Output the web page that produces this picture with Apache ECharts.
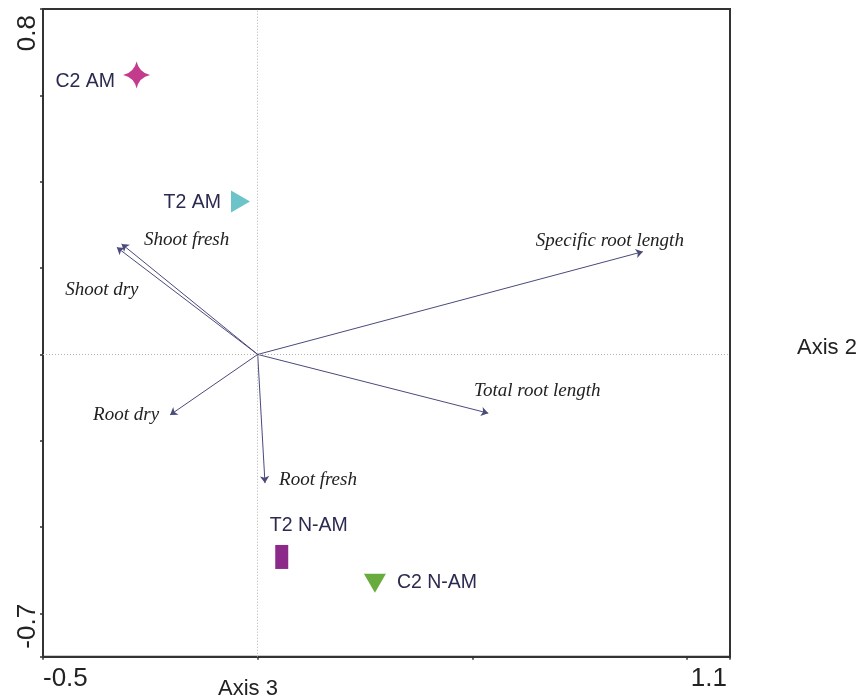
<!DOCTYPE html>
<html>
<head>
<meta charset="utf-8">
<style>
  html, body { margin: 0; padding: 0; background: #ffffff; }
  #chart { width: 862px; height: 700px; }
</style>
<script src="https://cdn.jsdelivr.net/npm/echarts@6/dist/echarts.min.js"></script>
</head>
<body>
<div id="chart"></div>
<script>
// Treatment group scores on axes 3 (x) and 2 (y)
const groupNames = ['C2 AM', 'T2 AM', 'T2 N-AM', 'C2 N-AM'];
const groupAxis3 = [-0.282, -0.040, 0.056, 0.273];
const groupAxis2 = [0.647, 0.354, -0.469, -0.530];

// Trait vectors (arrow tips, drawn from the origin)
const traitNames = ['Shoot fresh', 'Shoot dry', 'Root dry', 'Root fresh', 'Specific root length', 'Total root length'];
const traitAxis3 = [-0.317, -0.328, -0.204, 0.017, 0.897, 0.537];
const traitAxis2 = [0.256, 0.248, -0.140, -0.298, 0.238, -0.136];

// Axis ranges, ticks and the labelled end values
const xRange = [-0.5, 1.1];
const yRange = [-0.7, 0.8];
const xTicks = [-0.5, 0, 0.5, 1.0, 1.1];
const yTicks = [-0.7, -0.6, -0.4, -0.2, 0, 0.2, 0.4, 0.6, 0.8];
const xTickLabels = [-0.5, 1.1];
const yTickLabels = [-0.7, 0.8];

// Marker look for each group
const groupStyle = {
  'C2 AM':   { color: '#c43a8d', size: [27, 27], symbol: 'path://M0,-10 Q1.8,-1.8 10,0 Q1.8,1.8 0,10 Q-1.8,1.8 -10,0 Q-1.8,-1.8 0,-10Z', label: { position: 'left', distance: 8, offset: [0, 7] } },
  'T2 AM':   { color: '#6cc4c9', size: [19, 22], symbol: 'path://M0,0 L19,11 L0,22Z', label: { position: 'left', distance: 10, offset: [0, 1] } },
  'T2 N-AM': { color: '#8c2a8a', size: [13, 24], symbol: 'rect', label: { position: 'inside', distance: 0, offset: [27, -31] } },
  'C2 N-AM': { color: '#69ab3c', size: [22, 19], symbol: 'path://M0,0 L22,0 L11,19Z', label: { position: 'right', distance: 11, offset: [0, -1] } }
};

// Label placement next to each arrow tip (pixels from the tip)
const traitLabelOffset = {
  'Shoot fresh': [65, -4],
  'Shoot dry': [-15, 43],
  'Root dry': [-44, 0],
  'Root fresh': [53, -3],
  'Specific root length': [-33, -11],
  'Total root length': [49, -22]
};

const sans = '"Liberation Sans", Arial, sans-serif';
const serif = '"Liberation Serif", "Times New Roman", serif';
const ink = '#333333';

const chart = echarts.init(document.getElementById('chart'), null, { renderer: 'canvas' });

const option = {
  animation: false,
  backgroundColor: '#ffffff',
  grid: {
    left: 43, right: 132, top: 9, bottom: 43.3,
    outerBoundsMode: 'none',
    containLabel: false,
    show: true, borderColor: ink, borderWidth: 2, backgroundColor: 'transparent'
  },
  xAxis: {
    type: 'value',
    min: xRange[0], max: xRange[1],
    name: 'Axis 3',
    nameLocation: 'middle',
    nameGap: 21,
    nameMoveOverlap: false,
    nameTextStyle: { fontFamily: sans, fontSize: 22, color: '#222', padding: [0, 277, 0, 0] },
    axisLine: { show: true, onZero: false, lineStyle: { color: ink, width: 2 } },
    axisTick: { show: true, length: 3, customValues: xTicks, lineStyle: { color: ink, width: 1.5 } },
    axisLabel: {
      show: true, customValues: xTickLabels, margin: 9,
      fontFamily: sans, fontSize: 26, color: '#222',
      alignMinLabel: 'left', alignMaxLabel: 'right',
      padding: [0, 3, 0, 0],
      formatter: v => String(Math.round(v * 10) / 10)
    },
    splitLine: { show: false }
  },
  yAxis: [{
    type: 'value',
    min: yRange[0], max: yRange[1],
    axisLine: { show: true, onZero: false, lineStyle: { color: ink, width: 2 } },
    axisTick: { show: true, length: 3, customValues: yTicks, lineStyle: { color: ink, width: 1.5 } },
    axisLabel: {
      show: true, customValues: yTickLabels, margin: 2, rotate: 90,
      fontFamily: sans, fontSize: 26, color: '#222',
      alignMinLabel: 'left', alignMaxLabel: 'right',
      padding: [0, 6, 0, 8],
      formatter: v => String(Math.round(v * 10) / 10)
    },
    splitLine: { show: false }
  }, {
    type: 'value',
    position: 'right',
    min: yRange[0], max: yRange[1],
    name: 'Axis 2',
    nameLocation: 'middle',
    nameRotate: 0,
    nameGap: 67,
    nameMoveOverlap: false,
    nameTextStyle: { fontFamily: sans, fontSize: 22, color: '#222', verticalAlign: 'top', align: 'left', padding: [4, 0, 0, 0] },
    axisLine: { show: false },
    axisTick: { show: false },
    axisLabel: { show: false },
    splitLine: { show: false }
  }],
  series: [
    {
      // dotted reference lines through the origin
      type: 'line',
      data: [],
      silent: true,
      markLine: {
        silent: true,
        symbol: ['none', 'none'],
        label: { show: false },
        lineStyle: { type: [1, 2], color: '#b0b0b0', width: 1 },
        data: [{ xAxis: 0 }, { yAxis: 0 }]
      }
    },
    {
      // trait vectors
      type: 'lines',
      coordinateSystem: 'cartesian2d',
      silent: true,
      symbol: ['none', 'arrow'],
      symbolSize: [0, 7],
      lineStyle: { color: '#4a4a7c', width: 1, opacity: 1 },
      itemStyle: { color: '#27275e' },
      data: traitNames.map((n, i) => ({ name: n, coords: [[0, 0], [traitAxis3[i], traitAxis2[i]]] }))
    },
    {
      // trait names beside the arrow tips
      type: 'scatter',
      silent: true,
      symbolSize: 0,
      itemStyle: { color: 'transparent', opacity: 1 },
      label: {
        show: true,
        position: 'inside',
        fontFamily: serif,
        fontStyle: 'italic',
        fontSize: 19,
        color: '#222222',
        formatter: p => p.name
      },
      data: traitNames.map((n, i) => ({
        name: n,
        value: [traitAxis3[i], traitAxis2[i]],
        label: { offset: traitLabelOffset[n] }
      }))
    },
    {
      // treatment groups
      type: 'scatter',
      silent: true,
      itemStyle: { opacity: 1 },
      label: {
        show: true,
        fontFamily: sans,
        fontSize: 19.5,
        color: '#2b2a50',
        formatter: p => p.name
      },
      data: groupNames.map((n, i) => {
        const s = groupStyle[n];
        return {
          name: n,
          value: [groupAxis3[i], groupAxis2[i]],
          symbol: s.symbol,
          symbolSize: s.size,
          itemStyle: { color: s.color, opacity: 1 },
          label: { position: s.label.position, distance: s.label.distance, offset: s.label.offset }
        };
      })
    }
  ]
};

chart.setOption(option);
</script>
</body>
</html>
